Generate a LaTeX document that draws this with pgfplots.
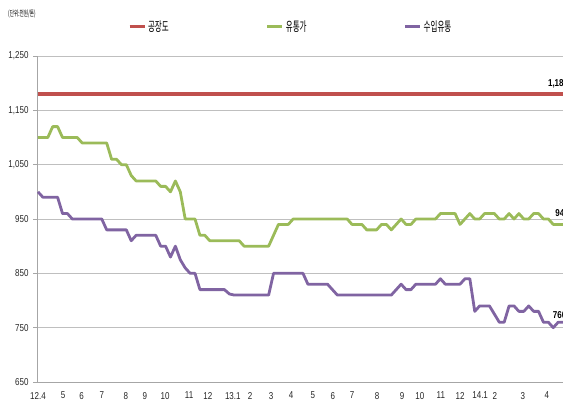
\documentclass[border=0pt]{standalone}
\usepackage{fontspec}
\setmainfont{Liberation Sans}[FakeStretch=0.8]
\newfontfamily\kr{Noto Sans CJK KR}[FakeStretch=0.58]
\usepackage{pgfplots}
\pgfplotsset{compat=1.18}
\definecolor{cred}{HTML}{C0504D}
\definecolor{cgreen}{HTML}{9BBB59}
\definecolor{cpurple}{HTML}{8064A2}
\definecolor{cgrid}{HTML}{BFBFBF}
\begin{document}
\begin{tikzpicture}
\useasboundingbox (0,0) rectangle (563pt,401pt);
\clip (0,0) rectangle (563pt,401pt);
\begin{axis}[
  width=540.8pt, height=326pt, scale only axis,
  at={(37pt,19pt)}, anchor=south west,
  xmin=-0.2, xmax=110, ymin=650, ymax=1250,
  axis x line*=bottom, axis y line*=left,
  axis line style={-, draw=gray!70, line width=0.8pt},
  ytick={650,750,...,1250},
  ymajorgrids, grid style={cgrid, line width=0.8pt},
  xtick={0,5.1,8.9,13,17.9,21.8,25.9,30.8,34.6,39.7,43.2,47.5,51.6,56,60.1,64,69.1,74.2,77.8,82.1,86,90.1,93.1,98.8,103.7},
  xticklabels={12.4,5,6,7,8,9,10,11,12,13.1,2,3,4,5,6,7,8,9,10,11,12,14.1,2,3,4},
  x tick style={draw=none},
  y tick style={draw=gray!70, line width=0.6pt},
  tick align=outside, major tick length=4pt,
  ticklabel style={font=\fontsize{10}{11}\selectfont, text=black!85},
  xticklabel style={yshift=-2.5pt},
  yticklabel style={xshift=-1pt},
  /pgf/number format/.cd, 1000 sep={,}, assume math mode=true,
  /pgfplots/.cd,
  legend columns=3,
  legend style={at={(axis description cs:0.168,1.089)}, anchor=west, draw=none, fill=none, inner sep=0pt,
    font=\kr\fontsize{13}{15}\selectfont,
    /tikz/every even column/.append style={column sep=95pt}},
  legend image code/.code={\draw[line width=3pt] (0pt,0pt) -- (15pt,0pt);},
]
\addplot[cred, line width=3.4pt] coordinates {(0,1180) (110,1180)};
\addlegendentry{공장도}
\addplot[cgreen, line width=2.8pt, line join=round] table {
x y
0 1100
1 1100
2 1100
3 1120
4 1120
5 1100
6 1100
7 1100
8 1100
9 1090
10 1090
11 1090
12 1090
13 1090
14 1090
15 1060
16 1060
17 1050
18 1050
19 1030
20 1020
21 1020
22 1020
23 1020
24 1020
25 1010
26 1010
27 1000
28 1020
29 1000
30 950
31 950
32 950
33 920
34 920
35 910
36 910
37 910
38 910
39 910
40 910
41 910
42 900
43 900
44 900
45 900
46 900
47 900
48 920
49 940
50 940
51 940
52 950
53 950
54 950
55 950
56 950
57 950
58 950
59 950
60 950
61 950
62 950
63 950
64 940
65 940
66 940
67 930
68 930
69 930
70 940
71 940
72 930
73 940
74 950
75 940
76 940
77 950
78 950
79 950
80 950
81 950
82 960
83 960
84 960
85 960
86 940
87 950
88 960
89 950
90 950
91 960
92 960
93 960
94 950
95 950
96 960
97 950
98 960
99 950
100 950
101 960
102 960
103 950
104 950
105 940
106 940
107 940
};
\addlegendentry{유통가}
\addplot[cpurple, line width=2.8pt, line join=round] table {
x y
0 1000
1 990
2 990
3 990
4 990
5 960
6 960
7 950
8 950
9 950
10 950
11 950
12 950
13 950
14 930
15 930
16 930
17 930
18 930
19 910
20 920
21 920
22 920
23 920
24 920
25 900
26 900
27 880
28 900
29 875
30 860
31 850
32 850
33 820
34 820
35 820
36 820
37 820
38 820
39 812
40 810
41 810
42 810
43 810
44 810
45 810
46 810
47 810
48 850
49 850
50 850
51 850
52 850
53 850
54 850
55 830
56 830
57 830
58 830
59 830
60 820
61 810
62 810
63 810
64 810
65 810
66 810
67 810
68 810
69 810
70 810
71 810
72 810
73 820
74 830
75 820
76 820
77 830
78 830
79 830
80 830
81 830
82 840
83 830
84 830
85 830
86 830
87 840
88 840
89 780
90 790
91 790
92 790
93 775
94 760
95 760
96 790
97 790
98 780
99 780
100 790
101 780
102 780
103 760
104 760
105 750
106 760
107 760
};
\addlegendentry{수입유통}
\node[anchor=west, inner sep=0pt, font=\bfseries\fontsize{10}{11}\selectfont] at (axis cs:103.9,1198) {1,180};
\node[anchor=west, inner sep=0pt, font=\bfseries\fontsize{10}{11}\selectfont] at (axis cs:105.4,961) {940};
\node[anchor=west, inner sep=0pt, font=\bfseries\fontsize{10}{11}\selectfont] at (axis cs:104.9,774) {760};
\end{axis}
\node[anchor=west, inner sep=0pt, font=\kr\fontsize{8}{9}\selectfont] at (8pt,387pt) {(단위:천원/톤)};
\end{tikzpicture}
\end{document}
